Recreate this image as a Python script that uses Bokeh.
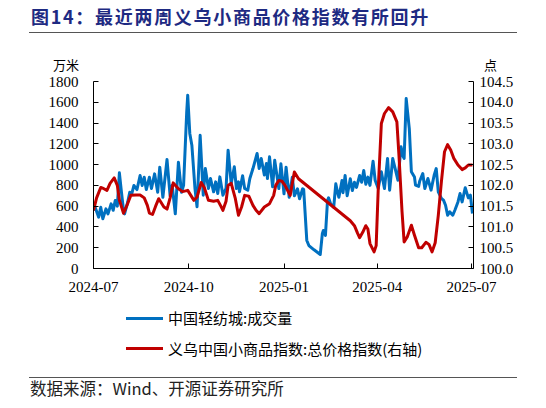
from datetime import datetime
import pandas as pd
from bokeh.plotting import figure
from bokeh.layouts import column
from bokeh.models import (Range1d, LinearAxis, FixedTicker, DatetimeTickFormatter,
                          NumeralTickFormatter, ColumnDataSource, Div)
from bokeh.embed import file_html
from bokeh.resources import INLINE

# ---------------- data ----------------
title_text = "图14：最近两周义乌小商品价格指数有所回升"
source_text = "数据来源：Wind、开源证券研究所"
vol_name = "中国轻纺城:成交量"
idx_name = "义乌中国小商品指数:总价格指数(右轴)"
left_unit = "万米"
right_unit = "点"

x_tick_labels = ["2024-07", "2024-10", "2025-01", "2025-04", "2025-07"]
left_ticks = [0, 200, 400, 600, 800, 1000, 1200, 1400, 1600, 1800]
right_ticks = [100.0, 100.5, 101.0, 101.5, 102.0, 102.5, 103.0, 103.5, 104.0, 104.5]

vol_dates = [
    "2024-07-01", "2024-07-02", "2024-07-06", "2024-07-08", "2024-07-10", "2024-07-13", "2024-07-15",
    "2024-07-18", "2024-07-20", "2024-07-22", "2024-07-24", "2024-07-26", "2024-07-28", "2024-07-30",
    "2024-07-31",
    "2024-08-03", "2024-08-05", "2024-08-07", "2024-08-09", "2024-08-12", "2024-08-15", "2024-08-17",
    "2024-08-19", "2024-08-21", "2024-08-24", "2024-08-26", "2024-08-29",
    "2024-09-01", "2024-09-03", "2024-09-06", "2024-09-10", "2024-09-13", "2024-09-15", "2024-09-18",
    "2024-09-21", "2024-09-24", "2024-09-26", "2024-09-29", "2024-09-30",
    "2024-10-02", "2024-10-04", "2024-10-07", "2024-10-09", "2024-10-12", "2024-10-15", "2024-10-17",
    "2024-10-20", "2024-10-22", "2024-10-25", "2024-10-27", "2024-10-29", "2024-10-31",
    "2024-11-03", "2024-11-06", "2024-11-08", "2024-11-11", "2024-11-14", "2024-11-16", "2024-11-18",
    "2024-11-19", "2024-11-22", "2024-11-24", "2024-11-27", "2024-11-29",
    "2024-12-02", "2024-12-06", "2024-12-08", "2024-12-10", "2024-12-13", "2024-12-15", "2024-12-16",
    "2024-12-18", "2024-12-21", "2024-12-23", "2024-12-27", "2024-12-29",
    "2025-01-01", "2025-01-03", "2025-01-06", "2025-01-09", "2025-01-11", "2025-01-14", "2025-01-16",
    "2025-01-19", "2025-01-20", "2025-01-23", "2025-01-25", "2025-01-30",
    "2025-02-05", "2025-02-07", "2025-02-08", "2025-02-10", "2025-02-12", "2025-02-13", "2025-02-15",
    "2025-02-18", "2025-02-20", "2025-02-22", "2025-02-23", "2025-02-26", "2025-02-27",
    "2025-03-01", "2025-03-03", "2025-03-06", "2025-03-08", "2025-03-10", "2025-03-12", "2025-03-15",
    "2025-03-17", "2025-03-19", "2025-03-21", "2025-03-23", "2025-03-25", "2025-03-28", "2025-03-30",
    "2025-04-02", "2025-04-05", "2025-04-08", "2025-04-11", "2025-04-13", "2025-04-16", "2025-04-21",
    "2025-04-24", "2025-04-26", "2025-04-27", "2025-04-29",
    "2025-05-02", "2025-05-04", "2025-05-07", "2025-05-08", "2025-05-11", "2025-05-12", "2025-05-15",
    "2025-05-17", "2025-05-20", "2025-05-23", "2025-05-26", "2025-05-28", "2025-05-30",
    "2025-06-02", "2025-06-04", "2025-06-06", "2025-06-08", "2025-06-10", "2025-06-13", "2025-06-15",
    "2025-06-18", "2025-06-20", "2025-06-22", "2025-06-25", "2025-06-28", "2025-06-30",
    "2025-07-02",
]
vol_values = [
    560, 606, 494, 590, 478, 574, 526, 622, 560, 654, 600, 921, 734, 558, 526,
    638, 734, 720, 799, 760, 895, 799, 879, 760, 879, 770, 911,
    734, 975, 686, 1049, 700, 800, 526, 1023, 734, 800, 1500, 1668,
    1300, 1187, 770, 594, 1283, 706, 962, 770, 866, 738, 834, 722, 882,
    706, 770, 1139, 818, 979, 770, 834, 738, 892, 770, 754, 866,
    962, 1107, 962, 1059, 900, 1010, 866, 1075, 786, 1042, 770, 1008,
    719, 975, 686, 879, 700, 767, 671, 767, 760, 270, 221, 180,
    135, 334, 366, 318, 654, 680, 623, 590, 815, 720, 686, 847, 730,
    895, 700, 863, 750, 830, 780, 895, 830, 943, 810, 880, 800, 1033, 850,
    770, 931, 770, 1059, 754, 1059, 850, 1171, 1080, 1059, 1636,
    1347, 931, 880, 802, 790, 840, 914, 770, 866, 754, 898, 962, 738,
    674, 658, 609, 513, 545, 513, 561, 641, 722, 641, 777, 680, 706,
    529,
]

idx_dates = [
    "2024-07-01", "2024-07-04", "2024-07-08", "2024-07-11", "2024-07-14", "2024-07-17", "2024-07-21",
    "2024-07-24", "2024-07-26", "2024-07-30",
    "2024-08-02", "2024-08-06", "2024-08-11", "2024-08-15", "2024-08-19", "2024-08-22", "2024-08-24",
    "2024-08-27", "2024-08-30",
    "2024-09-02", "2024-09-04", "2024-09-07", "2024-09-10", "2024-09-13", "2024-09-16", "2024-09-21",
    "2024-09-25", "2024-09-30",
    "2024-10-03", "2024-10-06", "2024-10-09", "2024-10-13", "2024-10-16", "2024-10-20", "2024-10-25",
    "2024-10-29",
    "2024-11-01", "2024-11-03", "2024-11-06", "2024-11-08", "2024-11-11", "2024-11-15", "2024-11-18",
    "2024-11-21", "2024-11-24", "2024-11-28",
    "2024-12-02", "2024-12-05", "2024-12-08", "2024-12-13", "2024-12-18", "2024-12-22", "2024-12-24",
    "2024-12-27", "2024-12-30",
    "2025-01-02", "2025-01-05", "2025-01-07", "2025-01-09", "2025-01-11", "2025-01-15",
    "2025-03-06", "2025-03-10", "2025-03-13", "2025-03-15", "2025-03-18", "2025-03-21", "2025-03-23",
    "2025-03-25", "2025-03-29", "2025-03-31",
    "2025-04-02", "2025-04-05", "2025-04-08", "2025-04-12", "2025-04-16", "2025-04-20", "2025-04-22",
    "2025-04-25", "2025-04-27", "2025-04-30",
    "2025-05-04", "2025-05-07", "2025-05-11", "2025-05-14", "2025-05-18", "2025-05-21", "2025-05-24",
    "2025-05-27", "2025-05-30",
    "2025-06-02", "2025-06-05", "2025-06-08", "2025-06-11", "2025-06-14", "2025-06-18", "2025-06-22",
    "2025-06-25", "2025-06-28",
    "2025-07-02",
]
idx_values = [
    101.40, 101.70, 101.95, 101.92, 101.88, 102.05, 102.18, 102.00, 101.65, 101.33,
    101.50, 101.76, 101.77, 101.77, 101.70, 101.52, 101.33, 101.30, 101.50,
    101.68, 101.60, 101.48, 101.43, 101.70, 102.06, 101.92, 101.85, 101.88,
    101.76, 101.64, 101.72, 102.07, 101.95, 101.64, 101.62, 101.64,
    101.50, 101.40, 101.62, 102.00, 102.05, 101.68, 101.28, 101.48, 101.76, 101.74,
    101.52, 101.40, 101.32, 101.48, 101.56, 101.76, 102.00, 102.12, 102.10,
    102.00, 101.85, 101.76, 102.05, 102.32, 102.16,
    101.15, 101.03, 100.85, 100.74, 100.87, 101.03, 100.95, 100.60, 100.40, 100.55,
    101.92, 103.49, 103.73, 103.87, 103.77, 103.53, 102.73, 101.36, 100.64, 100.76,
    101.04, 100.80, 100.50, 100.50, 100.63, 100.58, 100.40, 100.62, 101.28,
    102.09, 102.81, 102.98, 102.85, 102.65, 102.49, 102.38, 102.42, 102.49,
    102.49,
]

assert len(vol_dates) == len(vol_values)
assert len(idx_dates) == len(idx_values)

# ---------------- style ----------------
W, H = 546, 408
TOP_H, MAIN_H = 75, 230
BOT_H = H - TOP_H - MAIN_H
FL, FR, FT, FB = 93, 473, 81, 268          # plot frame edges on the page (px)
BLUE = "#0070C0"
RED = "#C00000"
SERIF = "Liberation Serif"
CJK = "'Noto Sans CJK SC', 'Noto Sans', sans-serif"
RULE = "#555555"


def box(left, top, inner, css=""):
    return (f'<div style="position:absolute;left:{left}px;top:{top}px;'
            f'white-space:nowrap;{css}">{inner}</div>')


def rule(top):
    return box(29, top, "", f"width:488px;height:0;border-top:1.5px solid {RULE};")


# ---------------- header ----------------
header_html = (
    f'<div style="position:relative;width:{W}px;height:{TOP_H}px;font-family:{CJK};'
    f'margin:0;padding:0;overflow:visible;">'
    + box(31, 5, title_text, "font-size:18px;line-height:22px;font-weight:bold;"
                             "letter-spacing:1.7px;color:#1E2A82;")
    + rule(32)
    + box(53, 57, left_unit, "font-size:13px;line-height:16px;color:#000;")
    + box(484, 57, right_unit, "font-size:13px;line-height:16px;color:#000;")
    + '</div>'
)
header = Div(text=header_html, width=W, height=TOP_H, margin=(0, 0, 0, 0))

# ---------------- main chart ----------------
vol_src = ColumnDataSource(dict(x=pd.to_datetime(vol_dates), y=vol_values))
idx_src = ColumnDataSource(dict(x=pd.to_datetime(idx_dates), y=idx_values))

p = figure(width=W, height=MAIN_H, x_axis_type="datetime",
           x_range=Range1d(datetime(2024, 7, 1), datetime(2025, 7, 3)),
           y_range=Range1d(left_ticks[0], left_ticks[-1]),
           output_backend="svg", toolbar_location=None,
           min_border_left=FL, min_border_right=W - FR,
           min_border_top=FT - TOP_H, min_border_bottom=TOP_H + MAIN_H - FB)
p.extra_y_ranges = {"right": Range1d(right_ticks[0], right_ticks[-1])}
p.outline_line_color = None
p.background_fill_color = "white"
p.border_fill_color = "white"
p.xgrid.visible = False
p.ygrid.visible = False

p.line("x", "y", source=vol_src, line_color=BLUE, line_width=3, line_join="round")
p.line("x", "y", source=idx_src, line_color=RED, line_width=3, line_join="round",
       y_range_name="right")


def style_axis(ax):
    ax.axis_line_color = "black"
    ax.axis_line_width = 1
    ax.major_tick_line_color = "black"
    ax.major_tick_in = 5
    ax.major_tick_out = 0
    ax.minor_tick_line_color = None
    ax.major_label_text_font = SERIF
    ax.major_label_text_font_size = "15px"
    ax.major_label_text_color = "black"


xt = [pd.Timestamp(lbl + "-01").value // 10**6 for lbl in x_tick_labels]
xa = p.xaxis[0]
xa.ticker = FixedTicker(ticks=xt)
fmt = "%Y-%m"
xa.formatter = DatetimeTickFormatter(years=fmt, months=fmt, days=fmt, hours=fmt,
                                     minutes=fmt, seconds=fmt, milliseconds=fmt,
                                     microseconds=fmt, strip_leading_zeros=False)
style_axis(xa)
xa.major_label_standoff = 13

ya = p.yaxis[0]
ya.ticker = FixedTicker(ticks=left_ticks)
style_axis(ya)
ya.major_label_standoff = 15

ra = LinearAxis(y_range_name="right", ticker=FixedTicker(ticks=right_ticks),
                formatter=NumeralTickFormatter(format="0.0"))
style_axis(ra)
ra.major_label_standoff = 6
p.add_layout(ra, "right")

# ---------------- legend + footer ----------------
y0 = TOP_H + MAIN_H
leg_centers = [318 - y0, 348.5 - y0]
leg_html = ""
for c, name, col in zip(leg_centers, [vol_name, idx_name], [BLUE, RED]):
    leg_html += box(126, c - 1.5, "", f"width:37px;height:3px;background:{col};")
    leg_html += box(168, c - 10, name, "font-size:15px;line-height:20px;color:#000;")
footer_html = (
    f'<div style="position:relative;width:{W}px;height:{BOT_H}px;font-family:{CJK};'
    f'margin:0;padding:0;overflow:visible;">'
    + leg_html
    + rule(377 - y0)
    + box(30, 388 - y0 - 11, source_text, "font-size:16.5px;line-height:22px;color:#222;")
    + '</div>'
)
footer = Div(text=footer_html, width=W, height=BOT_H, margin=(0, 0, 0, 0))

layout = column(header, p, footer, spacing=0)
open("out.html", "w").write(file_html(layout, INLINE))
